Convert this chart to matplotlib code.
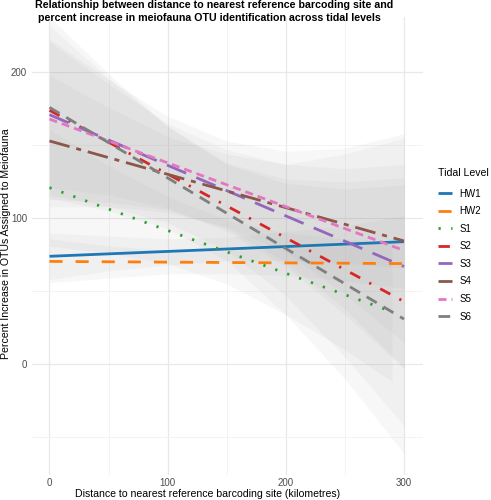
import matplotlib
matplotlib.use("Agg")
import matplotlib.pyplot as plt

plt.rcParams['font.family'] = ['Liberation Sans', 'DejaVu Sans']
plt.rcParams['lines.scale_dashes'] = False

# fitted lines (start x, end x, start y, end y)
levels = ['HW1', 'HW2', 'S1', 'S2', 'S3', 'S4', 'S5', 'S6']
x_start = [0, 0, 0, 0, 0, 0, 0, 0]
x_end = [300, 300, 290, 300, 300, 300, 300, 300]
y_start = [74, 70.5, 121, 174, 171, 153, 168, 176]
y_end = [84, 69, 36, 43, 67, 84.5, 78, 31]

# confidence bands read at these distances
band_x = [0, 50, 100, 150, 200, 250, 300]
band_x_s1 = [0, 50, 100, 150, 200, 250, 290]
band_lo = {
    'HW1': [58, 64, 68, 71, 71, 69, 66],
    'HW2': [56, 59, 62, 62, 61, 57, 52],
    'S1': [81, 76, 69, 55, 34, 10, -12],
    'S2': [116, 108, 97, 78, 47, 5, -42],
    'S3': [121, 116, 107, 91, 67, 34, -3],
    'S4': [108, 108, 104, 94, 77, 48, 15],
    'S5': [113, 111, 106, 93, 70, 38, -2],
    'S6': [114, 105, 93, 71, 34, -10, -61],
}
band_hi = {
    'HW1': [90, 88, 86, 87, 91, 95, 102],
    'HW2': [86, 81, 78, 78, 79, 81, 86],
    'S1': [161, 136, 115, 99, 90, 86, 84],
    'S2': [232, 196, 163, 138, 127, 125, 128],
    'S3': [221, 192, 165, 147, 137, 134, 137],
    'S4': [198, 176, 156, 144, 137, 144, 155],
    'S5': [223, 195, 170, 153, 146, 148, 158],
    'S6': [238, 199, 163, 137, 124, 120, 123],
}

colors = ['#1f77b4', '#ff7f0e', '#2ca02c', '#d62728', '#9467bd', '#8c564b', '#e377c2', '#7f7f7f']
dashes = [None, (9.4, 9.4), (1.6, 7.5), (8.2, 7.4, 1.6, 7.4), (15, 8),
          (15, 5, 3.6, 5), (5.8, 3.6), (8.4, 5.6)]

fig = plt.figure(figsize=(4.91, 5.0), dpi=100)
ax = fig.add_axes([32/491, 25/500, 391/491, 458/500])

for i, lv in enumerate(levels):
    bx = band_x_s1 if lv == 'S1' else band_x
    ax.fill_between(bx, band_lo[lv], band_hi[lv], color='#999999', alpha=0.07, lw=0)

handles = []
for i, lv in enumerate(levels):
    ln, = ax.plot([x_start[i], x_end[i]], [y_start[i], y_end[i]], color=colors[i],
                  lw=2.0, label=lv, solid_capstyle='butt', dash_capstyle='butt')
    if dashes[i] is not None:
        ln.set_dashes(dashes[i])
    handles.append(ln)

ax.set_xlim(-14.8, 316.1)
ax.set_ylim(-75.8, 237.9)
ax.set_xticks([0, 100, 200, 300])
ax.set_xticks([50, 150, 250], minor=True)
ax.set_yticks([0, 100, 200])
ax.set_yticks([-50, 50, 150], minor=True)
ax.grid(True, which='major', color='#e8e8e8', lw=0.9)
ax.grid(True, which='minor', color='#f1f1f1', lw=0.6)
ax.set_axisbelow(True)
for s in ax.spines.values():
    s.set_visible(False)
ax.tick_params(which='both', length=0, labelsize=7, labelcolor='#4d4d4d')
ax.tick_params(axis='y', pad=3.6)
ax.tick_params(axis='x', pad=2.5)

fig.text(35/491, 1 - 0/500,
         "Relationship between distance to nearest reference barcoding site and\n percent increase in meiofauna OTU identification across tidal levels",
         ha='left', va='top', fontsize=7.7, fontweight='bold', linespacing=1.4)
fig.text(207.5/491, 1 - 499/500, "Distance to nearest reference barcoding site (kilometres)",
         ha='center', va='bottom', fontsize=7.6)
fig.text(6/491, 1 - 244/500, "Percent Increase in OTUs Assigned to Meiofauna",
         ha='center', va='center', rotation=90, fontsize=7.6)

leg = fig.legend(handles=handles, title='Tidal Level', loc='upper left',
                 bbox_to_anchor=(436/491, 1 - 169/500), frameon=False,
                 fontsize=7, title_fontsize=7.6, handlelength=1.45,
                 handletextpad=0.75, labelspacing=0.78, alignment='left',
                 borderaxespad=0, borderpad=0.2)
leg.get_title().set_position((0, 3))

fig.savefig('out.png', dpi=100)
